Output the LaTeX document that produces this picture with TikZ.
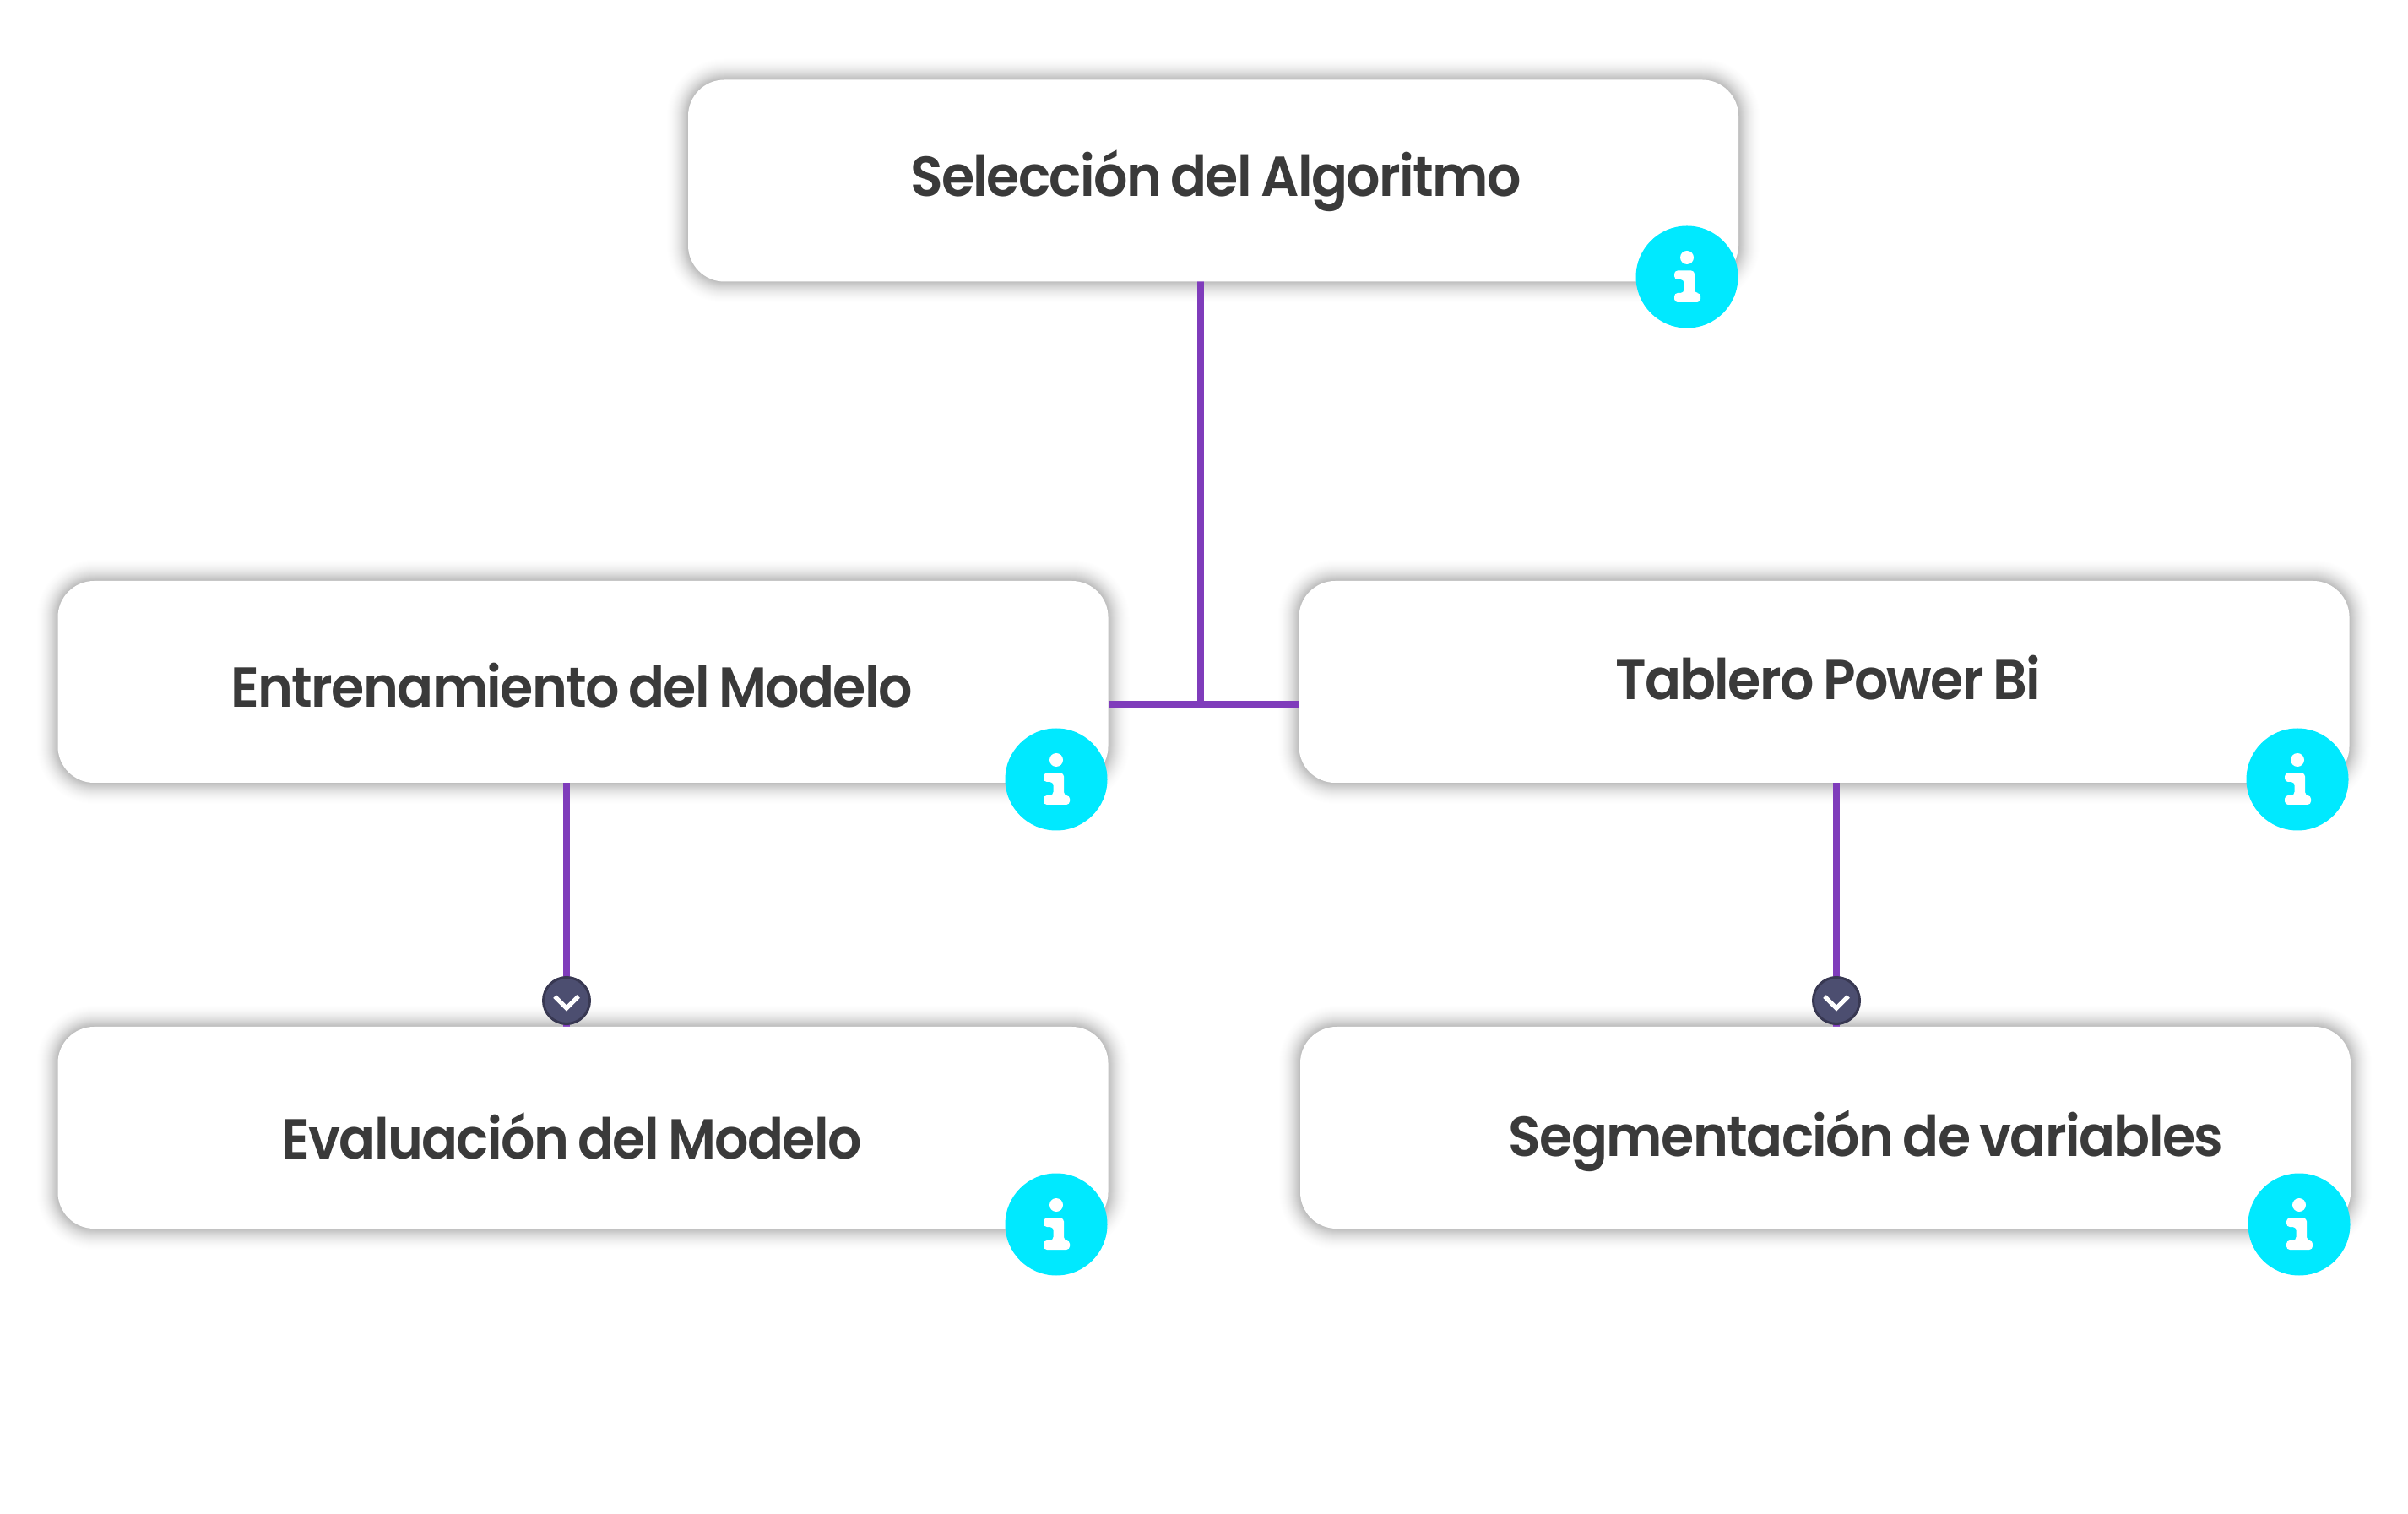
\documentclass[tikz,border=0pt]{standalone}
\usepackage{fontspec}
\setmainfont{Poppins SemiBold}[FakeStretch=0.95,LetterSpace=-2.4,WordSpace=0.75]
\usetikzlibrary{backgrounds}
\definecolor{linkpurple}{RGB}{127,60,187}
\definecolor{badgecyan}{RGB}{0,233,255}
\definecolor{chevfill}{RGB}{76,78,112}
\definecolor{chevline}{RGB}{56,56,82}
\definecolor{cardtext}{RGB}{58,58,58}
\tikzset{
  card/.style={fill=white,rounded corners=0.43cm,minimum width=12.44cm,minimum height=2.39cm,inner sep=0,outer sep=0},
  cardlabel/.style={anchor=base,text=cardtext,font=\fontsize{19}{23}\selectfont,inner sep=0},
  link/.style={draw=linkpurple,line width=0.08cm},
  badge/.style={circle,fill=badgecyan,minimum size=1.21cm,inner sep=0},
  chevdot/.style={circle,fill=chevfill,draw=chevline,line width=0.03cm,minimum size=0.55cm,inner sep=0}
}
\begin{document}
\begin{tikzpicture}
\useasboundingbox (0,0) rectangle (28.52,17.92);
% cards with their soft shadow
\foreach \nm/\cx/\cy in {seleccion/14.37/15.78,entrenamiento/6.905/9.845,tablero/21.605/9.845,evaluacion/6.905/4.565,segmentacion/21.62/4.565} {
  \node [card] (\nm) at (\cx,\cy) {};
  \begin{pgfonlayer}{background}
  \foreach \r in {1,...,28} {
    \pgfmathsetmacro\sh{0.018*(1-\r/28)+0.0005}
    \pgfmathsetmacro\rr{\r*0.01}
    \pgfmathsetmacro\rc{0.43+\rr}
    \fill [black,opacity=\sh,rounded corners=\rc cm] ([shift={(-\rr,-\rr)}]\nm.south west) rectangle ([shift={(\rr,\rr)}]\nm.north east);
  }
  \end{pgfonlayer}
}
% labels
\node [cardlabel] (txtseleccion) at (14.40,15.59) {Selección del Algoritmo};
\node [cardlabel] (txtentrenamiento) at (6.77,9.54) {Entrenamiento del Modelo};
\node [cardlabel] (txttablero) at (21.65,9.63) {Tablero Power Bi};
\node [cardlabel] (txtevaluacion) at (6.77,4.20) {Evaluación del Modelo};
\node [cardlabel] (txtsegmentacion) at (22.10,4.22) {Segmentación de variables};
% connectors
\coordinate (junction) at (14.22,9.58);
\node [chevdot] (chevleft) at (6.71,6.07) {};
\node [chevdot] (chevright) at (21.75,6.07) {};
\begin{pgfonlayer}{background}
\draw [link] (seleccion.south -| junction) -- (junction);
\draw [link] (entrenamiento.east |- junction) -- (tablero.west |- junction);
\draw [link] (entrenamiento.south -| chevleft) -- (evaluacion.north -| chevleft);
\draw [link] (tablero.south -| chevright) -- (segmentacion.north -| chevright);
\end{pgfonlayer}
\foreach \nm in {chevleft,chevright} {
  \draw [white,line width=0.05cm] ([shift={(-0.14,0.05)}]\nm.center) -- ([shift={(0,-0.09)}]\nm.center) -- ([shift={(0.14,0.05)}]\nm.center);
}
% info badges
\foreach \nm/\bx/\by in {infoa/19.98/14.64,infob/12.51/8.69,infoc/27.21/8.69,infod/12.51/3.42,infoe/27.23/3.42} {
  \node [badge] (\nm) at (\bx,\by) {};
  \fill [white] ([shift={(0,0.23)}]\nm.center) circle [radius=0.08];
  \fill [white,rounded corners=0.04cm] ([shift={(-0.15,0.075)}]\nm.center) -- ([shift={(0.09,0.075)}]\nm.center) -- ([shift={(0.09,-0.19)}]\nm.center) -- ([shift={(0.16,-0.19)}]\nm.center) -- ([shift={(0.16,-0.3)}]\nm.center) -- ([shift={(-0.15,-0.3)}]\nm.center) -- ([shift={(-0.15,-0.19)}]\nm.center) -- ([shift={(-0.035,-0.19)}]\nm.center) -- ([shift={(-0.035,-0.03)}]\nm.center) -- ([shift={(-0.15,-0.03)}]\nm.center) -- cycle;
}
\end{tikzpicture}
\end{document}
